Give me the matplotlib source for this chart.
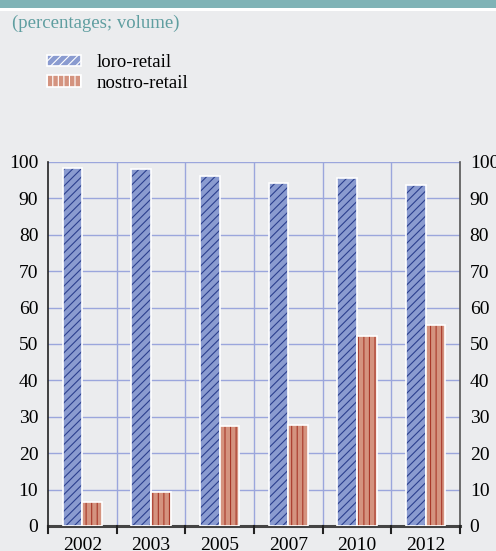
import numpy as np
from matplotlib import pyplot as plt
from matplotlib.patches import Rectangle

years = ["2002", "2003", "2005", "2007", "2010", "2012"]
loro_retail = [98.3, 98.2, 96.2, 94.1, 95.5, 93.6]
nostro_retail = [6.5, 9.3, 27.4, 27.7, 52.1, 55.3]

plt.rcParams['font.family'] = ['Liberation Serif', 'DejaVu Serif']
plt.rcParams['hatch.linewidth'] = 0.8

bg = "#ebecee"
grid_col = "#9ba6dc"
blue_fill = "#8a9bd0"
red_fill = "#d4937f"

fig = plt.figure(figsize=(4.96, 5.51), dpi=100, facecolor=bg)
# top band
fig.patches.append(Rectangle((0, 1 - 8 / 551), 1, 8 / 551, transform=fig.transFigure,
                             facecolor="#7fb3b6", edgecolor="none"))
fig.patches.append(Rectangle((0, 1 - 11 / 551), 1, 3 / 551, transform=fig.transFigure,
                             facecolor="white", edgecolor="none"))
fig.text(12 / 496, 1 - 23 / 551, "(percentages; volume)", color="#5f9ea0",
         fontsize=13.5, va="center", ha="left")

ax = fig.add_axes([48 / 496, 25 / 551, 412 / 496, 364 / 551])
ax.set_facecolor(bg)

x = np.arange(len(years))
w = 0.285
b1 = ax.bar(x - w / 2, loro_retail, w, color=blue_fill, edgecolor="white", linewidth=1.2,
            hatch="////", zorder=3, label="loro-retail")
b2 = ax.bar(x + w / 2, nostro_retail, w, color=red_fill, edgecolor="white", linewidth=1.2,
            hatch="|||", zorder=3, label="nostro-retail")
for p in b1.patches:
    p._hatch_color = (0.17, 0.25, 0.56, 1.0)
for p in b2.patches:
    p._hatch_color = (0.66, 0.22, 0.16, 1.0)

ax.set_xlim(-0.5, len(years) - 0.5)
ax.set_ylim(0, 100)
ax.set_yticks(range(0, 101, 10))
for yv in range(10, 101, 10):
    ax.axhline(yv, color=grid_col, linewidth=1, zorder=1)
for xv in np.arange(0.5, len(years) - 0.5, 1):
    ax.axvline(xv, color=grid_col, linewidth=1, zorder=1)

ax.set_xticks(x)
ax.set_xticklabels(years)
ax.tick_params(axis="x", length=0, labelsize=14, pad=8)
ax.tick_params(axis="y", length=0, labelsize=14, pad=7, labelright=True, right=False)

ax.spines["top"].set_visible(False)
ax.spines["left"].set_color("#222222")
ax.spines["right"].set_color("#555555")
ax.spines["left"].set_linewidth(1.2)
ax.spines["right"].set_linewidth(1.2)
ax.spines["bottom"].set_color("#444444")
ax.spines["bottom"].set_linewidth(2.2)

# category boundary ticks below axis
for xv in np.arange(-0.5, len(years), 1):
    ax.plot([xv, xv], [0, -2], color="#222222", linewidth=1.5, clip_on=False, zorder=4)

leg = fig.legend(handles=[b1, b2], loc="upper left", bbox_to_anchor=(47 / 496, 1 - 54 / 551),
                 frameon=False, fontsize=13.5, handlelength=1.8, handleheight=0.55,
                 labelspacing=0.2, handletextpad=0.85, borderpad=0, borderaxespad=0)
for h in leg.legend_handles:
    h.set_edgecolor("white")

fig.savefig("out.png", dpi=100, facecolor=bg)
